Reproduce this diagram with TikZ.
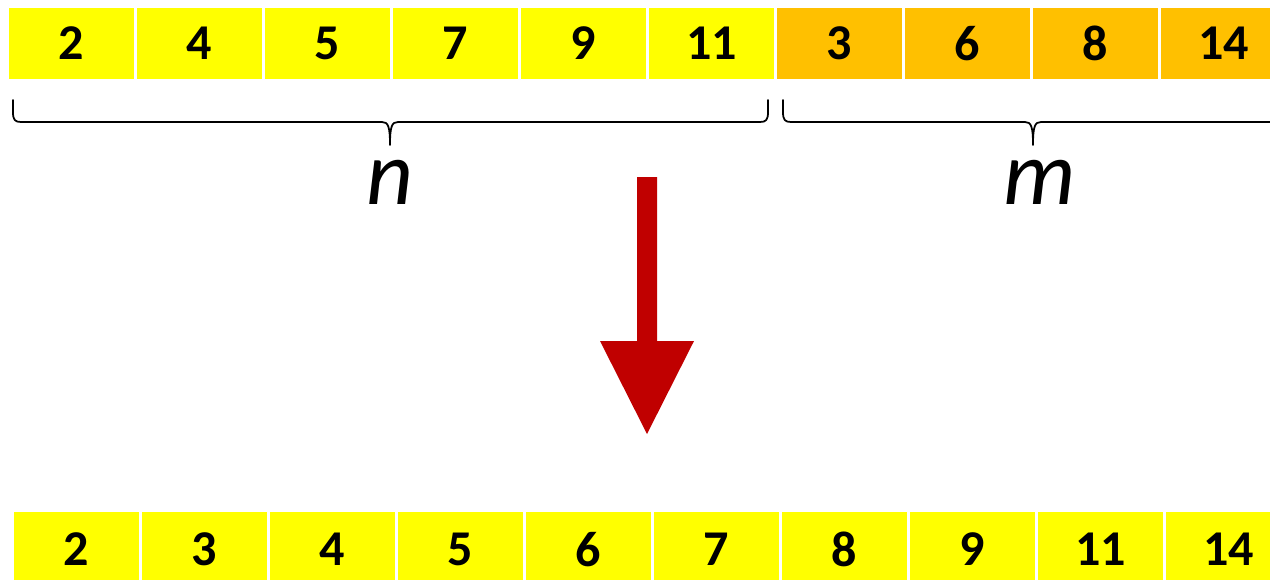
\documentclass[tikz,border=0pt]{standalone}
\usepackage{fontspec}
\setmainfont{Carlito}
\usetikzlibrary{positioning}
\definecolor{cellyellow}{HTML}{FFFF00}
\definecolor{cellorange}{HTML}{FFC000}
\definecolor{arrowred}{HTML}{C00000}
\tikzset{
  cell/.style={minimum width=2.5cm,minimum height=1.42cm,inner sep=0pt,
    font=\fontsize{28.5}{30}\selectfont\bfseries},
  lowcell/.style={cell,minimum height=1.5cm,fill=cellyellow},
  lenlabel/.style={anchor=base,inner sep=0pt,font=\fontsize{52}{56}\selectfont\itshape},
  bracket/.style={line width=1pt,line cap=round,line join=round}
}
\begin{document}
\begin{tikzpicture}[x=0.02cm,y=-0.02cm]
  \useasboundingbox (0,0) rectangle (1270,579);
  % the two input runs
  \foreach \v [count=\i] in {2,4,5,7,9,11}
    \node[cell,fill=cellyellow] (t\i) at ({71.5+128*(\i-1)},43.5) {\v};
  \foreach \v [count=\i from 7] in {3,6,8,14}
    \node[cell,fill=cellorange] (t\i) at ({71.5+128*(\i-1)},43.5) {\v};
  % braces
  \draw[bracket] (13,100) -- (13,112) .. controls (13,120) and (15,122) .. (21,122)
    -- (382,122) .. controls (388,122) and (390,126) .. (390,145)
    .. controls (390,126) and (392,122) .. (398,122)
    -- (760,122) .. controls (766,122) and (768,120) .. (768,112) -- (768,100);
  \draw[bracket] (783,100) -- (783,112) .. controls (783,120) and (785,122) .. (791,122)
    -- (1025,122) .. controls (1031,122) and (1033,126) .. (1033,145)
    .. controls (1033,126) and (1035,122) .. (1041,122)
    -- (1275,122) .. controls (1281,122) and (1283,120) .. (1283,112) -- (1283,100);
  \node[lenlabel] (nlen) at (390,204) {n};
  \node[lenlabel] (mlen) at (1040,204) {m};
  % merge arrow
  \fill[arrowred] (637,177) -- (657,177) -- (657,341) -- (694,341) -- (647,434)
    -- (600,341) -- (637,341) -- cycle;
  % merged result
  \foreach \v [count=\i] in {2,3,4,5,6,7,8,9,11,14}
    \node[lowcell] (b\i) at ({76.5+128*(\i-1)},549.5) {\v};
\end{tikzpicture}
\end{document}
